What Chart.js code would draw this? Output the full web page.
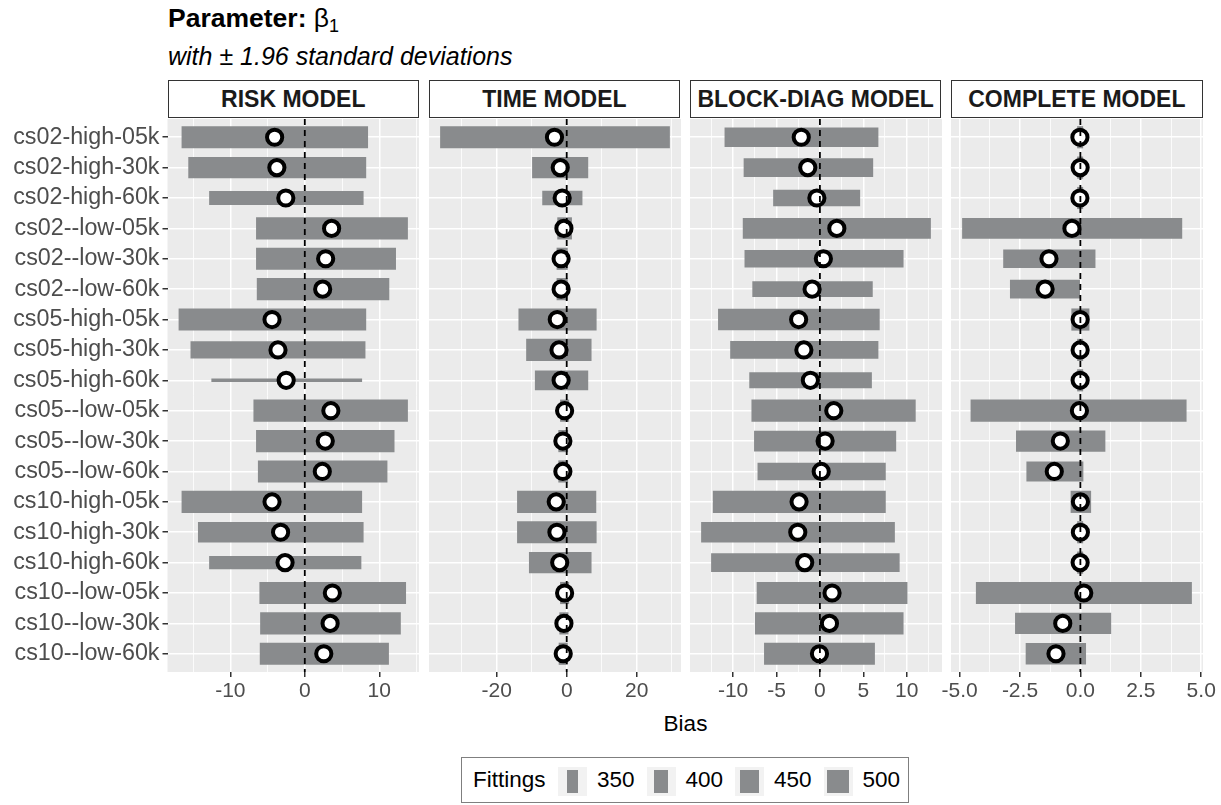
<!DOCTYPE html>
<html>
<head>
<meta charset="utf-8">
<script src="https://cdn.jsdelivr.net/npm/chart.js@4.4.1/dist/chart.umd.min.js"></script>
<style>
  html, body { margin: 0; padding: 0; background: #fff; overflow: hidden; }
  #page { position: relative; width: 1221px; height: 805px; overflow: hidden; font-family: "Liberation Sans", Arial, sans-serif; }
  #page canvas { position: absolute; }
  .strip { position: absolute; top: 80px; height: 38px; box-sizing: border-box; border: 1px solid #333; background: #fff;
           font-weight: bold; font-size: 23px; color: #1a1a1a; text-align: center; line-height: 36px; white-space: nowrap; }
  .txt { position: absolute; white-space: nowrap; }
</style>
</head>
<body>
<div id="page">
  <div class="txt" style="left:168px; top:5px; font-size:26.5px; line-height:27px; color:#000;"><b>Parameter:</b> β<sub style="font-size:18px; vertical-align:-5px;">1</sub></div>
  <div class="txt" style="left:168px; top:44px; font-size:25px; line-height:25px; font-style:italic; color:#000;">with ± 1.96 standard deviations</div>
  <div class="txt" style="left:0; width:1371px; text-align:center; top:712px; font-size:22.5px; line-height:23px; color:#000;">Bias</div>
</div>
<script>
const categories = ["cs02-high-05k", "cs02-high-30k", "cs02-high-60k", "cs02--low-05k", "cs02--low-30k", "cs02--low-60k",
  "cs05-high-05k", "cs05-high-30k", "cs05-high-60k", "cs05--low-05k", "cs05--low-30k", "cs05--low-60k",
  "cs10-high-05k", "cs10-high-30k", "cs10-high-60k", "cs10--low-05k", "cs10--low-30k", "cs10--low-60k"];
const models = ["RISK MODEL", "TIME MODEL", "BLOCK-DIAG MODEL", "COMPLETE MODEL"];

// bias estimate and +/- 1.96 sd interval, number of fittings
const riskLow  = [-16.5, -15.6, -12.8, -6.5, -6.5, -6.4, -16.9, -15.3, -12.5, -6.85, -6.5, -6.25, -16.5, -14.3, -12.8, -6.05, -5.95, -6.0];
const riskHigh = [8.45, 8.2, 7.85, 13.8, 12.2, 11.3, 8.2, 8.1, 7.65, 13.8, 12.0, 11.05, 7.65, 7.85, 7.55, 13.55, 12.85, 11.25];
const riskBias = [-4.05, -3.75, -2.55, 3.6, 2.8, 2.4, -4.4, -3.6, -2.5, 3.5, 2.75, 2.35, -4.4, -3.25, -2.65, 3.7, 3.4, 2.55];
const riskFits = [500, 490, 400, 500, 500, 500, 500, 441, 274, 500, 500, 500, 500, 478, 393, 500, 500, 500];

const timeLow  = [-36.1, -9.8, -6.9, -2.6, -2.8, -2.8, -13.7, -11.5, -9.0, -1.8, -2.3, -2.3, -14.1, -14.1, -10.7, -1.8, -2.0, -2.2];
const timeHigh = [29.4, 6.05, 4.4, 1.4, 0.2, 0.2, 8.45, 7.0, 6.05, 0.6, 0.3, 0.3, 8.35, 8.45, 7.0, 0.6, 0.4, 0.2];
const timeBias = [-3.5, -1.85, -1.3, -0.8, -1.6, -1.6, -2.7, -2.2, -1.6, -0.6, -1.1, -1.1, -3.0, -2.8, -2.0, -0.6, -0.8, -1.0];
const timeFits = [500, 490, 405, 500, 500, 500, 500, 500, 470, 500, 500, 500, 500, 500, 490, 500, 500, 500];

const blockLow  = [-10.95, -8.75, -5.35, -8.85, -8.65, -7.75, -11.7, -10.3, -8.1, -7.85, -7.55, -7.15, -12.3, -13.65, -12.5, -7.25, -7.45, -6.4];
const blockHigh = [6.7, 6.1, 4.6, 12.75, 9.6, 6.05, 6.85, 6.7, 5.95, 11.0, 8.75, 7.55, 7.55, 8.6, 9.15, 10.05, 9.6, 6.3];
const blockBias = [-2.15, -1.4, -0.35, 1.95, 0.4, -0.9, -2.45, -1.85, -1.1, 1.6, 0.6, 0.15, -2.4, -2.55, -1.75, 1.4, 1.1, -0.05];
const blockFits = [470, 457, 429, 482, 441, 424, 490, 445, 424, 500, 482, 445, 500, 482, 461, 500, 500, 500];

const completeLow  = [-0.12, -0.12, -0.12, -4.88, -3.18, -2.9, -0.36, -0.12, -0.12, -4.53, -2.65, -2.22, -0.39, -0.12, -0.12, -4.31, -2.69, -2.25];
const completeHigh = [0.1, 0.1, 0.1, 4.2, 0.61, 0.0, 0.36, 0.1, 0.1, 4.38, 1.02, 0.11, 0.43, 0.1, 0.1, 4.6, 1.26, 0.22];
const completeBias = [-0.02, -0.01, -0.02, -0.35, -1.3, -1.46, -0.01, -0.01, -0.01, -0.04, -0.83, -1.08, 0.0, 0.0, -0.01, 0.14, -0.73, -1.01];
const completeFits = [500, 500, 500, 482, 457, 457, 500, 500, 500, 500, 490, 473, 500, 500, 500, 500, 490, 490];

const fittingLevels = [350, 400, 450, 500];

const riskTicks = [-10, 0, 10];
const timeTicks = [-20, 0, 20];
const blockTicks = [-10, -5, 0, 5, 10];
const completeTicks = [-5, -2.5, 0, 2.5, 5];

Chart.defaults.font.family = '"Liberation Sans", Arial, sans-serif';

const panels = [
  { name: models[0], low: riskLow, high: riskHigh, bias: riskBias, fits: riskFits, ticks: riskTicks, digits: 0 },
  { name: models[1], low: timeLow, high: timeHigh, bias: timeBias, fits: timeFits, ticks: timeTicks, digits: 0 },
  { name: models[2], low: blockLow, high: blockHigh, bias: blockBias, fits: blockFits, ticks: blockTicks, digits: 0 },
  { name: models[3], low: completeLow, high: completeHigh, bias: completeBias, fits: completeFits, ticks: completeTicks, digits: 1 }
];

const panelLeft = 167.5, panelW = 251.5, panelGap = 9.7, panelTop = 119, panelH = 553, axisH = 42, pad = 28;
const barColor = "#898b8d";

function barSize(f) {
  return Math.max(2.5, 21.5 - (500 - f) * 0.082);
}

function noPadding(s) {
  s.paddingTop = 0;
  s.paddingBottom = 0;
  s.paddingLeft = 0;
  s.paddingRight = 0;
}

const panelBg = {
  id: "panelBg",
  beforeDraw(chart) {
    const { ctx, chartArea: a } = chart;
    ctx.save();
    ctx.fillStyle = "#ebebeb";
    ctx.fillRect(a.left, a.top, a.right - a.left, a.bottom - a.top);
    ctx.restore();
  }
};

const zeroLine = {
  id: "zeroLine",
  afterDatasetsDraw(chart) {
    const { ctx, chartArea: a } = chart;
    const x = chart.scales.x.getPixelForValue(0);
    ctx.save();
    ctx.strokeStyle = "#000";
    ctx.lineWidth = 1.8;
    ctx.setLineDash([6, 5]);
    ctx.beginPath();
    ctx.moveTo(x, a.top);
    ctx.lineTo(x, a.bottom);
    ctx.stroke();
    ctx.restore();
  }
};

const page = document.getElementById("page");

panels.forEach((p, k) => {
  const left = panelLeft + k * (panelW + panelGap);
  const first = k === 0;

  const strip = document.createElement("div");
  strip.className = "strip";
  strip.style.left = left + "px";
  strip.style.width = panelW + "px";
  strip.textContent = p.name;
  page.appendChild(strip);

  const canvas = document.createElement("canvas");
  const cLeft = first ? 0 : left - pad;
  const cW = first ? left + panelW + pad : panelW + 2 * pad;
  canvas.width = Math.round(cW);
  canvas.height = panelH + axisH;
  canvas.style.left = cLeft + "px";
  canvas.style.top = panelTop + "px";
  page.appendChild(canvas);

  // ggplot style 5% expansion of the data range
  const all = p.low.concat(p.high, p.bias);
  const lo = Math.min(...all), hi = Math.max(...all), ex = (hi - lo) * 0.05;
  const step = p.ticks[1] - p.ticks[0];
  const minors = [];
  for (let j = 0; j <= p.ticks.length; j++) {
    const v = p.ticks[0] - step / 2 + j * step;
    if (v > lo - ex && v < hi + ex) minors.push(v);
  }
  const isMajor = v => p.ticks.includes(v);

  const datasets = [{
    type: "scatter",
    data: p.bias.map((b, i) => ({ x: b, y: i })),
    pointRadius: 7.6,
    pointHoverRadius: 7.6,
    pointBorderWidth: 4,
    pointBackgroundColor: "#fff",
    pointBorderColor: "#000",
    order: 0
  }];
  p.low.forEach((l, i) => {
    datasets.push({
      type: "bar",
      data: [{ y: i, x: [l, p.high[i]] }],
      barThickness: barSize(p.fits[i]),
      backgroundColor: barColor,
      grouped: false,
      order: 1
    });
  });

  new Chart(canvas.getContext("2d"), {
    type: "bar",
    data: { datasets },
    options: {
      responsive: false,
      animation: false,
      indexAxis: "y",
      layout: { autoPadding: false, padding: { left: first ? 0 : pad, right: pad, top: 0, bottom: 0 } },
      plugins: { legend: { display: false }, tooltip: { enabled: false } },
      scales: {
        x: {
          type: "linear",
          min: lo - ex,
          max: hi + ex,
          beginAtZero: false,
          afterBuildTicks: s => { s.ticks = p.ticks.concat(minors).sort((a, b) => a - b).map(v => ({ value: v })); },
          afterFit: s => { s.height = axisH; noPadding(s); },
          ticks: {
            autoSkip: false, maxRotation: 0, color: "#4d4d4d", font: { size: 21 }, padding: 2,
            callback: v => isMajor(v) ? v.toFixed(p.digits) : ""
          },
          grid: {
            color: "#fff",
            lineWidth: c => isMajor(c.tick.value) ? 1.5 : 0.8,
            tickLength: 5,
            tickColor: c => isMajor(c.tick.value) ? "#333" : "rgba(0,0,0,0)"
          },
          border: { display: false }
        },
        y: {
          type: "linear",
          reverse: true,
          min: -0.6,
          max: categories.length - 0.4,
          offset: false,
          afterBuildTicks: s => { s.ticks = categories.map((c, i) => ({ value: i })); },
          afterFit: s => { s.width = first ? left : 0; noPadding(s); },
          ticks: {
            display: first, autoSkip: false, color: "#4d4d4d", font: { size: 23.3 }, padding: 3,
            callback: v => categories[v]
          },
          grid: { color: "#fff", lineWidth: 1.5, offset: false, drawTicks: first, tickLength: 5, tickColor: "#333" },
          border: { display: false }
        }
      }
    },
    plugins: [panelBg, zeroLine]
  });
});

// legend
const legend = document.createElement("div");
legend.style.cssText = "position:absolute; left:461px; top:757px; width:448px; height:46px; box-sizing:border-box; border:1px solid #7f7f7f; background:#fff;";
page.appendChild(legend);
const legTitle = document.createElement("div");
legTitle.className = "txt";
legTitle.style.cssText = "left:11px; top:10px; font-size:22.5px; line-height:24px; color:#000;";
legTitle.textContent = "Fittings";
legend.appendChild(legTitle);
fittingLevels.forEach((f, i) => {
  const x = 96 + i * 88.5;
  const key = document.createElement("div");
  key.style.cssText = "position:absolute; top:9px; width:29px; height:29px; background:#f2f2f2; left:" + x + "px;";
  const bar = document.createElement("div");
  const w = barSize(f) + 1;
  bar.style.cssText = "position:absolute; top:3px; height:23px; background:" + barColor + "; width:" + w + "px; left:" + ((29 - w) / 2) + "px;";
  key.appendChild(bar);
  legend.appendChild(key);
  const lab = document.createElement("div");
  lab.className = "txt";
  lab.style.cssText = "top:10px; font-size:22.5px; line-height:24px; color:#000; left:" + (x + 39) + "px;";
  lab.textContent = String(f);
  legend.appendChild(lab);
});
</script>
</body>
</html>
